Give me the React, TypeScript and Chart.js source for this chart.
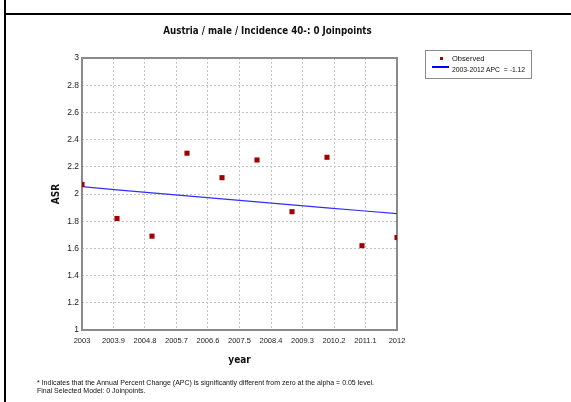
import React, { useEffect, useRef } from "react";
import { Chart, registerables } from "chart.js";

Chart.register(...registerables);

const years = [2003, 2004, 2005, 2006, 2007, 2008, 2009, 2010, 2011, 2012];
const observed = [2.07, 1.82, 1.69, 2.3, 2.12, 2.25, 1.87, 2.27, 1.62, 1.68];
const fitted = [2.054, 2.031, 2.008, 1.986, 1.964, 1.942, 1.92, 1.898, 1.877, 1.856];
const xTicks = [2003, 2003.9, 2004.8, 2005.7, 2006.6, 2007.5, 2008.4, 2009.3, 2010.2, 2011.1, 2012];
const yTicks = [1, 1.2, 1.4, 1.6, 1.8, 2, 2.2, 2.4, 2.6, 2.8, 3];

const titleText = "Austria / male / Incidence 40-: 0 Joinpoints";
const xTitle = "year";
const yTitle = "ASR";
const observedLabel = "Observed";
const fitLabel = "2003-2012 APC  = -1.12";
const footnotes = [
  "* Indicates that the Annual Percent Change (APC) is significantly different from zero at the alpha = 0.05 level.",
  "Final Selected Model: 0 Joinpoints.",
];

const RED = "#a00000";
const BLUE = "#2f2fff";
const SANS = "'Liberation Sans', Arial, sans-serif";
const BOLD = "'DejaVu Sans Condensed', 'DejaVu Sans', sans-serif";

const frameBorder = {
  id: "frameBorder",
  beforeDatasetsDraw(chart: any) {
    const { ctx, chartArea } = chart;
    ctx.save();
    ctx.strokeStyle = "#8a8a8a";
    ctx.lineWidth = 2;
    ctx.strokeRect(chartArea.left, chartArea.top, chartArea.right - chartArea.left, chartArea.bottom - chartArea.top);
    ctx.restore();
  },
};

export default function App() {
  const canvasRef = useRef<HTMLCanvasElement | null>(null);

  useEffect(() => {
    if (!canvasRef.current) return;
    const chart = new Chart(canvasRef.current, {
      type: "scatter",
      data: {
        datasets: [
          {
            label: observedLabel,
            data: years.map((x, i) => ({ x, y: observed[i] })),
            showLine: false,
            pointStyle: "rect",
            pointRadius: 3.6,
            pointBackgroundColor: RED,
            pointBorderColor: RED,
            pointBorderWidth: 0,
            order: 0,
          },
          {
            label: fitLabel,
            data: years.map((x, i) => ({ x, y: fitted[i] })),
            showLine: true,
            borderColor: BLUE,
            borderWidth: 1.2,
            pointRadius: 0,
            tension: 0,
            order: 1,
          },
        ] as any,
      },
      options: {
        responsive: false,
        animation: false,
        devicePixelRatio: 1,
        layout: { padding: { left: 0, right: 174, top: 58, bottom: 32 } },
        plugins: {
          legend: { display: false },
          title: { display: false },
          tooltip: { enabled: false },
        },
        scales: {
          x: {
            type: "linear",
            min: 2003,
            max: 2012,
            afterBuildTicks: (s: any) => {
              s.ticks = xTicks.map((v) => ({ value: v }));
            },
            afterFit: (s: any) => {
              s.height = 40;
            },
            ticks: {
              autoSkip: false,
              maxRotation: 0,
              padding: 6,
              color: "#222",
              font: { family: SANS, size: 7.5 },
              callback: (v: any) => String(v),
            },
            grid: { color: "#c4c4c4", drawTicks: false, lineWidth: 1 },
            border: { display: false, dash: [2, 2] },
            title: {
              display: true,
              text: xTitle,
              color: "#111",
              font: { family: BOLD, size: 10, weight: "bold" },
              padding: { top: 4, bottom: 4 },
            },
          },
          y: {
            type: "linear",
            min: 1,
            max: 3,
            afterBuildTicks: (s: any) => {
              s.ticks = yTicks.map((v) => ({ value: v }));
            },
            afterFit: (s: any) => {
              s.width = 82;
            },
            ticks: {
              padding: 3,
              color: "#222",
              font: { family: SANS, size: 8.5 },
              callback: (v: any) => String(v),
            },
            grid: { color: "#c4c4c4", drawTicks: false, lineWidth: 1 },
            border: { display: false, dash: [2, 2] },
            title: {
              display: true,
              text: yTitle,
              color: "#111",
              font: { family: BOLD, size: 10, weight: "bold" },
              padding: { top: 50, bottom: 4 },
            },
          },
        },
      },
      plugins: [frameBorder],
    } as any);
    return () => chart.destroy();
  }, []);

  return (
    <div style={{ position: "absolute", left: 0, top: 0, width: 571, height: 402, background: "#fff", overflow: "hidden" }}>
      <div style={{ position: "absolute", left: 4, top: 0, width: 2, height: 402, background: "#000" }} />
      <div style={{ position: "absolute", left: 6, top: 13, width: 565, height: 2, background: "#000" }} />
      <canvas ref={canvasRef} width={571} height={402} style={{ position: "absolute", left: 0, top: 0 }} />
      <div
        style={{
          position: "absolute",
          left: 0,
          width: 535,
          top: 25,
          textAlign: "center",
          fontFamily: BOLD,
          fontWeight: "bold",
          fontSize: 9.7,
          lineHeight: "12px",
          color: "#111",
          whiteSpace: "nowrap",
        }}
      >
        {titleText}
      </div>
      <div
        style={{
          position: "absolute",
          left: 425,
          top: 50,
          width: 107,
          height: 29,
          border: "1px solid #8a8a8a",
          fontFamily: SANS,
          fontSize: 6.8,
          color: "#111",
          boxSizing: "border-box",
        }}
      >
        <div style={{ position: "absolute", left: 14, top: 6, width: 3, height: 3, background: RED }} />
        <div style={{ position: "absolute", left: 26, top: 3, lineHeight: "9px", whiteSpace: "pre", fontSize: 7.5 }}>{observedLabel}</div>
        <div style={{ position: "absolute", left: 6, top: 15, width: 17, height: 1.5, background: "#0000ff" }} />
        <div style={{ position: "absolute", left: 26, top: 14, lineHeight: "9px", whiteSpace: "pre" }}>{fitLabel}</div>
      </div>
      <div
        style={{
          position: "absolute",
          left: 37,
          top: 379,
          fontFamily: SANS,
          fontSize: 7,
          lineHeight: "7.5px",
          color: "#111",
          whiteSpace: "nowrap",
        }}
      >
        {footnotes.map((t, i) => (
          <div key={i}>{t}</div>
        ))}
      </div>
    </div>
  );
}
